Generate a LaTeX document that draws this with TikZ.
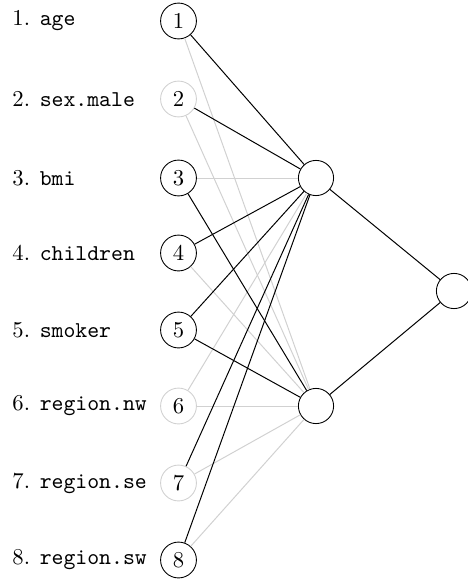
\documentclass[tikz,border=0pt]{standalone}
\begin{document}
\begin{tikzpicture}[x=0.4545pt,y=-0.4545pt,
  inp/.style={draw, circle, minimum size=16.3pt, inner sep=0pt, font=\fontsize{10.3}{12}\selectfont},
  off/.style={draw=black!18},
  hid/.style={draw, circle, minimum size=16pt, inner sep=0pt},
  lbl/.style={anchor=west, inner sep=0pt, font=\fontsize{10.3}{12}\selectfont},
  on/.style={draw=black, line width=0.45pt},
  offe/.style={draw=black!18, line width=0.45pt}]
\useasboundingbox (0,0) rectangle (467,579);
\newcommand{\lb}[2]{#1.\hspace{4.4pt}\texttt{#2}}
\node[lbl] (l1) at (12,21) {\lb{1}{age}};
\node[lbl] (l2) at (12,99) {\lb{2}{sex.male}};
\node[lbl] (l3) at (12,178) {\lb{3}{bmi}};
\node[lbl] (l4) at (12,253) {\lb{4}{children}};
\node[lbl] (l5) at (12,330) {\lb{5}{smoker}};
\node[lbl] (l6) at (12,406) {\lb{6}{region.nw}};
\node[lbl] (l7) at (12,483) {\lb{7}{region.se}};
\node[lbl] (l8) at (12,560) {\lb{8}{region.sw}};
\node[inp] (i1) at (178.5,21) {1};
\node[inp,off] (i2) at (178.5,99) {2};
\node[inp] (i3) at (178.5,178) {3};
\node[inp] (i4) at (178.5,253) {4};
\node[inp] (i5) at (178.5,330) {5};
\node[inp,off] (i6) at (178.5,406) {6};
\node[inp,off] (i7) at (178.5,483) {7};
\node[inp] (i8) at (178.5,560) {8};
\node[hid] (h1) at (316,178) {};
\node[hid] (h2) at (316,406) {};
\node[hid] (o) at (454,291) {};
% gray connections
\draw[offe] (i1) -- (h2);
\draw[offe] (i2) -- (h2);
\draw[offe] (i3) -- (h1);
\draw[offe] (i4) -- (h2);
\draw[offe] (i6) -- (h1);
\draw[offe] (i6) -- (h2);
\draw[offe] (i7) -- (h2);
\draw[offe] (i8) -- (h2);
% black connections
\draw[on] (i1) -- (h1);
\draw[on] (i2) -- (h1);
\draw[on] (i3) -- (h2);
\draw[on] (i4) -- (h1);
\draw[on] (i5) -- (h1);
\draw[on] (i5) -- (h2);
\draw[on] (i7) -- (h1);
\draw[on] (i8) -- (h1);
\draw[on] (h1) -- (o);
\draw[on] (h2) -- (o);
\end{tikzpicture}
\end{document}
